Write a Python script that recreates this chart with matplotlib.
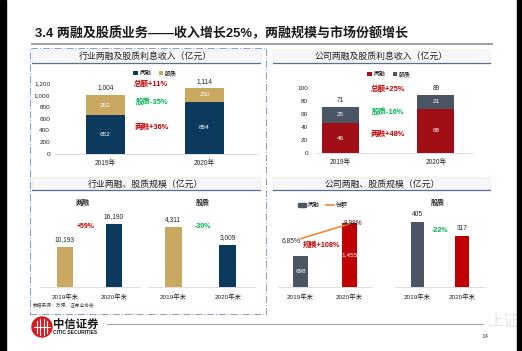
import matplotlib
matplotlib.use('Agg')
import matplotlib.pyplot as plt
from matplotlib.patches import Rectangle, Ellipse
from matplotlib.lines import Line2D

plt.rcParams['font.family'] = ['Liberation Sans', 'Noto Sans CJK SC']

W, H = 522, 351

# data
years = ['2019年', '2020年']
years_end = ['2019年末', '2020年末']
ind_margin_inc = [652, 884]
ind_pledge_inc = [352, 230]
co_margin_inc = [46, 68]
co_pledge_inc = [25, 21]
ind_margin_size = [10193, 16190]
ind_pledge_size = [4311, 3009]
co_margin_size = [698, 1455]
co_share = [6.85, 8.98]
co_pledge_size = [405, 317]

NAVY = '#0c3a5c'
GOLD = '#c9a862'
DRED = '#a20e16'
RED = '#c00000'
GRAY = '#4b5563'
ORANGE = '#ef8a3a'
GREEN = '#00b050'
TXT = '#262626'

fig = plt.figure(figsize=(W / 100, H / 100), dpi=100)
fig.patch.set_facecolor('white')


def box(x0, y0, x1, y1):
    return [x0 / W, 1 - y1 / H, (x1 - x0) / W, (y1 - y0) / H]


def ftext(x, y, s, **kw):
    kw.setdefault('ha', 'center')
    kw.setdefault('va', 'center')
    kw.setdefault('color', TXT)
    return fig.text(x / W, 1 - y / H, s, **kw)


def hline(x0, x1, y, **kw):
    fig.add_artist(Line2D([x0 / W, x1 / W], [1 - y / H, 1 - y / H], **kw))


def bar_axes(rect, xlim, ylim):
    ax = fig.add_axes(box(*rect))
    ax.set_xlim(xlim)
    ax.set_ylim(ylim)
    for s in ['top', 'right', 'left']:
        ax.spines[s].set_visible(False)
    ax.spines['bottom'].set_color('#d9d9d9')
    ax.spines['bottom'].set_linewidth(0.6)
    ax.tick_params(length=0, labelsize=4.6, colors=TXT)
    ax.patch.set_alpha(0)
    return ax


def top_label(ax, x, y, s, dy=2.2):
    ax.annotate(s, (x, y), xytext=(0, dy), textcoords='offset points',
                ha='center', va='bottom', fontsize=4.8, color=TXT)


# ---- frame / slide decoration ----
fig.add_artist(Rectangle((0, 0), 6 / W, 1, transform=fig.transFigure,
                         color='black', zorder=10))
fig.add_artist(Rectangle((517 / W, 0), 5 / W, 1, transform=fig.transFigure,
                         color='black', zorder=10))

ftext(35, 33, '3.4 两融及股质业务——收入增长25%，两融规模与市场份额增长',
      ha='left', fontsize=9.4, fontweight='bold', color='#1a1a1a')
hline(32, 492, 44, color='#a0a0a0', lw=1.4)

fig.add_artist(Rectangle((30 / W, 1 - 314 / H), 236 / W, 266 / H,
                         transform=fig.transFigure, fill=False,
                         edgecolor='#8fa3c4', lw=0.8, ls='-.'))

for (xa, xb, yt, title, xc) in [
        (32, 260, 63, '行业两融及股质利息收入（亿元）', 145),
        (273, 490, 63, '公司两融及股质利息收入（亿元）', 381),
        (32, 260, 190, '行业两融、股质规模（亿元）', 145),
        (273, 490, 190, '公司两融、股质规模（亿元）', 382)]:
    fig.add_artist(Rectangle((xa / W, 1 - yt / H), (xb - xa) / W, 13 / H,
                             transform=fig.transFigure, facecolor='#f6f7f9',
                             edgecolor='#e8e8e8', lw=0.4))
    hline(xa, xb, yt, color='#5a6e96', lw=0.9)
    ftext(xc, yt - 6, title, fontsize=6.4, color='#1f1f1f')

x = [0, 1]

# ---- top-left: industry interest income ----
ax1 = bar_axes((55, 83, 257, 154), (-0.51, 1.53), (0, 1200))
b1 = ax1.bar(x, ind_margin_inc, width=0.394, color=NAVY, label='两融')
b2 = ax1.bar(x, ind_pledge_inc, width=0.394, bottom=ind_margin_inc,
             color=GOLD, label='股质')
ax1.set_yticks(range(0, 1201, 200))
ax1.set_yticklabels([f'{v:,}' for v in range(0, 1201, 200)])
ax1.set_xticks(x)
ax1.set_xticklabels(years)
ax1.tick_params(axis='y', pad=3.5)
ax1.tick_params(axis='x', pad=4, labelsize=4.8)
for i in x:
    m, p = ind_margin_inc[i], ind_pledge_inc[i]
    ax1.text(i, m / 2, str(m), ha='center', va='center', color='white',
             fontsize=4.6)
    ax1.text(i, m + p / 2, str(p), ha='center', va='center', color='white',
             fontsize=4.6)
    top_label(ax1, i, m + p, f'{m + p:,}')
ax1.legend(handles=[b1, b2], ncol=2, frameon=False, fontsize=4.3,
           handlelength=0.7, handleheight=0.7, handletextpad=0.3,
           columnspacing=1.2, loc='center',
           bbox_to_anchor=(155 / W, 1 - 73 / H), bbox_transform=fig.transFigure)
ftext(151, 84, '总额+11%', fontsize=5.4, fontweight='bold', color=RED)
ftext(152, 102, '股质-35%', fontsize=5.4, fontweight='bold', color=GREEN)
ftext(152, 127, '两融+36%', fontsize=5.4, fontweight='bold', color=RED)

# ---- top-right: company interest income ----
ax2 = bar_axes((315, 88, 473, 153), (-0.27, 1.39), (0, 100))
c1 = ax2.bar(x, co_margin_inc, width=0.39, color=DRED, label='两融')
c2 = ax2.bar(x, co_pledge_inc, width=0.39, bottom=co_margin_inc,
             color=GRAY, label='股质')
ax2.set_yticks(range(0, 101, 20))
ax2.set_xticks(x)
ax2.set_xticklabels(years)
ax2.tick_params(axis='y', pad=5)
ax2.tick_params(axis='x', pad=4, labelsize=4.8)
for i in x:
    m, p = co_margin_inc[i], co_pledge_inc[i]
    ax2.text(i, m / 2, str(m), ha='center', va='center', color='white',
             fontsize=4.6)
    ax2.text(i, m + p / 2, str(p), ha='center', va='center', color='white',
             fontsize=4.6)
    top_label(ax2, i, m + p, str(m + p))
ax2.legend(handles=[c1, c2], ncol=2, frameon=False, fontsize=4.3,
           handlelength=0.7, handleheight=0.7, handletextpad=0.3,
           columnspacing=1.2, loc='center',
           bbox_to_anchor=(389 / W, 1 - 74 / H), bbox_transform=fig.transFigure)
ftext(388, 89, '总额+25%', fontsize=5.4, fontweight='bold', color=RED)
ftext(388, 112, '股质-16%', fontsize=5.4, fontweight='bold', color=GREEN)
ftext(388, 134, '两融+48%', fontsize=5.4, fontweight='bold', color=RED)

# ---- bottom-left: industry size ----
ax3 = bar_axes((40, 195, 140, 287), (-0.51, 1.53), (0, 23600))
ax3.bar(x, ind_margin_size, width=0.33, color=[GOLD, NAVY])
ax3.set_yticks([])
ax3.set_xticks(x)
ax3.set_xticklabels(years_end)
ax3.tick_params(axis='x', pad=4.5, labelsize=4.6)
for i in x:
    top_label(ax3, i, ind_margin_size[i], f'{ind_margin_size[i]:,}', dy=3)

ax4 = bar_axes((148, 195, 255, 287), (-0.46, 1.5), (0, 6610))
ax4.bar(x, ind_pledge_size, width=0.31, color=[GOLD, NAVY])
ax4.set_yticks([])
ax4.set_xticks(x)
ax4.set_xticklabels(years_end)
ax4.tick_params(axis='x', pad=4.5, labelsize=4.6)
for i in x:
    top_label(ax4, i, ind_pledge_size[i], f'{ind_pledge_size[i]:,}', dy=3)

ftext(83, 203, '两融', fontsize=5, fontweight='bold')
ftext(203, 203, '股质', fontsize=5, fontweight='bold')
ftext(86, 227, '+59%', fontsize=5, fontweight='bold', color=RED)
ftext(203, 227, '-30%', fontsize=5, fontweight='bold', color=GREEN)

# ---- bottom-right: company size ----
ax5 = bar_axes((278, 195, 372, 287), (-0.46, 1.46), (0, 2092))
ax5.bar(x, co_margin_size, width=0.31, color=[GRAY, RED])
ax5.set_yticks([])
ax5.set_xticks(x)
ax5.set_xticklabels(years_end)
ax5.tick_params(axis='x', pad=4.5, labelsize=4.6)
for i in x:
    ax5.text(i, co_margin_size[i] / 2, f'{co_margin_size[i]:,}', ha='center',
             va='center', color='white', fontsize=4.6)
ax5b = ax5.twinx()
ax5b.set_ylim(0, 13.07)
ax5b.axis('off')
share_line, = ax5b.plot(x, co_share, color=ORANGE, lw=1.2)
ax5b.annotate(f'{co_share[0]:.2f}%', (0, co_share[0]), xytext=(-6.5, -2),
              textcoords='offset points', ha='center', va='center',
              fontsize=4.8, color=TXT)
ax5b.annotate(f'{co_share[1]:.2f}%', (1, co_share[1]), xytext=(2.5, 0.5),
              textcoords='offset points', ha='center', va='center',
              fontsize=4.8, color=TXT)
leg_bar = Rectangle((0, 0), 1, 1, color=GRAY)
ax5.legend(handles=[leg_bar, share_line], labels=['两融', '份额'], ncol=2,
           frameon=False, fontsize=4.3, handlelength=1.4, handleheight=0.6,
           handletextpad=0.3, columnspacing=1.0, loc='center',
           bbox_to_anchor=(323 / W, 1 - 205 / H), bbox_transform=fig.transFigure)
ftext(322, 245, '规模+108%', fontsize=5.2, fontweight='bold', color=RED)

ax6 = bar_axes((395, 195, 485, 287), (-0.51, 1.52), (0, 573))
ax6.bar(x, co_pledge_size, width=0.31, color=[GRAY, RED])
ax6.set_yticks([])
ax6.set_xticks(x)
ax6.set_xticklabels(years_end)
ax6.tick_params(axis='x', pad=4.5, labelsize=4.6)
for i in x:
    top_label(ax6, i, co_pledge_size[i], str(co_pledge_size[i]), dy=3)
ftext(438, 203, '股质', fontsize=5, fontweight='bold')
ftext(440, 230, '-22%', fontsize=5, fontweight='bold', color=GREEN)

# ---- footer ----
ftext(33, 306, '数据来源：万得、证券业协会', ha='left', fontsize=3.4,
      color='#404040')
hline(107, 483, 324, color='#a6a6a6', lw=0.8)

cx, cy, r = 42, 327, 10
fig.add_artist(Ellipse((cx / W, 1 - cy / H), 2 * r / W, 2 * r / H,
                       transform=fig.transFigure, color='#d7191f'))
for dx, half in [(-5, 6), (-2, 8), (2, 8), (5, 6)]:
    fig.add_artist(Line2D([(cx + dx) / W] * 2,
                          [1 - (cy - half) / H, 1 - (cy + half) / H],
                          color='white', lw=0.8))
hline(cx - 8, cx + 8, cy, color='white', lw=0.8)
ftext(53, 324, '中信证券', ha='left', fontsize=8.2, fontweight='bold',
      color='#1a1a1a')
ftext(53, 333, 'CITIC SECURITIES', ha='left', fontsize=3.6, fontweight='bold',
      color='#1a1a1a')
ftext(485, 336, '14', fontsize=4.5, color='#404040')
ftext(503, 322, '上证', fontsize=11, color='#e4e4e4', zorder=1)

fig.savefig('out.png', dpi=100)
